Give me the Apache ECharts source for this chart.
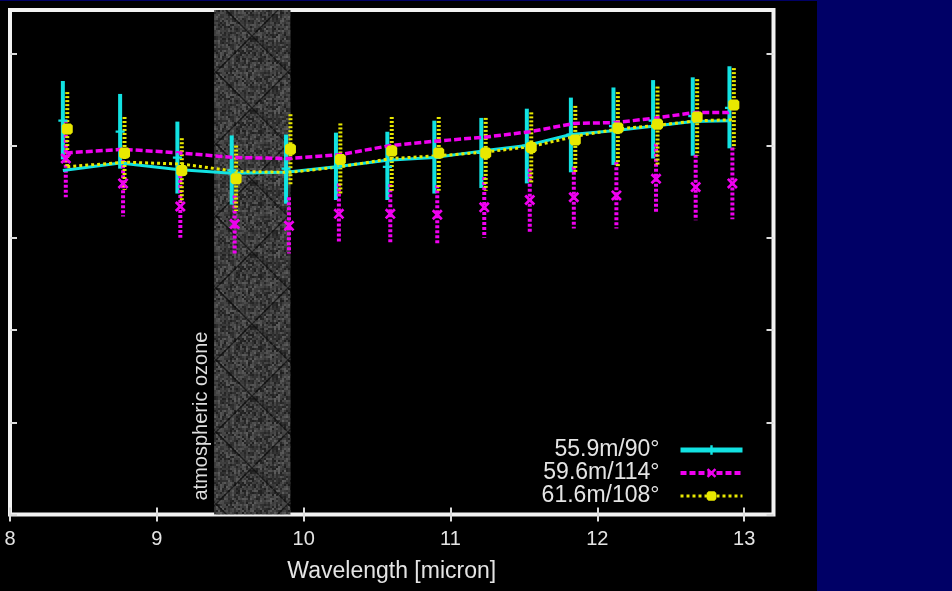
<!DOCTYPE html>
<html>
<head>
<meta charset="utf-8">
<script src="https://cdn.jsdelivr.net/npm/echarts@6/dist/echarts.min.js"></script>
<style>
  html, body { margin: 0; padding: 0; background: #000; }
  #chart { width: 952px; height: 591px; }
</style>
</head>
<body>
<div id="chart"></div>
<script>
// Axis ticks and annotations
const xTicks = [8, 9, 10, 11, 12, 13];
const yTicks = [0, 1, 2, 3, 4, 5];
const seriesNames = ['55.9m/90°', '59.6m/114°', '61.6m/108°'];
const ozoneBand = [9.39, 9.91];
const ozoneLabel = 'atmospheric ozone';
const xAxisTitle = 'Wavelength [micron]';

// 55.9m/90°
const cyanX    = [8.36, 8.75, 9.14, 9.51, 9.88, 10.22, 10.57, 10.89, 11.21, 11.52, 11.82, 12.11, 12.38, 12.65, 12.90];
const cyanLine = [3.73, 3.81, 3.74, 3.70, 3.71, 3.77, 3.84, 3.87, 3.94, 4.00, 4.12, 4.16, 4.21, 4.26, 4.27];
const cyanMid  = [4.27, 4.15, 3.87, 3.73, 3.75, 3.76, 3.77, 3.87, 3.92, 4.00, 4.12, 4.21, 4.27, 4.32, 4.41];
const cyanLow  = [3.85, 3.75, 3.48, 3.36, 3.37, 3.41, 3.41, 3.48, 3.54, 3.59, 3.71, 3.79, 3.86, 3.89, 3.97];
const cyanHigh = [4.70, 4.56, 4.26, 4.11, 4.12, 4.14, 4.15, 4.27, 4.30, 4.40, 4.52, 4.63, 4.71, 4.74, 4.86];

// 59.6m/114°
const magentaX    = [8.38, 8.77, 9.16, 9.53, 9.90, 10.24, 10.59, 10.91, 11.23, 11.54, 11.84, 12.13, 12.40, 12.67, 12.92];
const magentaLine = [3.92, 3.96, 3.92, 3.87, 3.86, 3.90, 4.00, 4.05, 4.09, 4.15, 4.24, 4.25, 4.30, 4.36, 4.36];
const magentaMid  = [3.86, 3.59, 3.34, 3.15, 3.13, 3.26, 3.26, 3.25, 3.33, 3.41, 3.44, 3.46, 3.64, 3.55, 3.59];
const magentaLow  = [3.44, 3.23, 3.00, 2.83, 2.83, 2.94, 2.95, 2.94, 3.00, 3.06, 3.10, 3.10, 3.26, 3.19, 3.20];
const magentaHigh = [4.28, 3.95, 3.68, 3.46, 3.44, 3.59, 3.58, 3.57, 3.66, 3.75, 3.77, 3.82, 4.02, 3.90, 3.98];

// 61.6m/108°
const yellowX    = [8.39, 8.78, 9.17, 9.54, 9.91, 10.25, 10.60, 10.92, 11.24, 11.55, 11.85, 12.14, 12.41, 12.68, 12.93];
const yellowLine = [3.77, 3.82, 3.80, 3.72, 3.71, 3.77, 3.86, 3.89, 3.93, 3.99, 4.10, 4.18, 4.22, 4.27, 4.28];
const yellowMid  = [4.18, 3.92, 3.73, 3.64, 3.96, 3.85, 3.94, 3.92, 3.92, 3.98, 4.06, 4.19, 4.23, 4.31, 4.44];
const yellowLow  = [3.77, 3.52, 3.38, 3.29, 3.58, 3.46, 3.51, 3.51, 3.51, 3.58, 3.70, 3.76, 3.79, 3.89, 3.97];
const yellowHigh = [4.58, 4.31, 4.08, 4.00, 4.34, 4.24, 4.31, 4.31, 4.30, 4.36, 4.43, 4.58, 4.64, 4.72, 4.84];

const FONT = '"Liberation Sans", Arial, Helvetica, sans-serif';
const TEXT = '#e4e4e4';
const CYAN = '#12e2e2';
const MAGENTA = '#f000f0';
const YELLOW = '#e8e800';

const PLUS = 'path://M3,0H5V3H8V5H5V8H3V5H0V3H3Z';
const CROSS = 'path://M0,1.4L1.4,0L4,2.6L6.6,0L8,1.4L5.4,4L8,6.6L6.6,8L4,5.4L1.4,8L0,6.6L2.6,4Z';
const BLOB = 'path://M1.5,0H6.5L8,1.5V6.5L6.5,8H1.5L0,6.5V1.5Z';

// Speckled grey texture with a diamond cross-hatch for the ozone band
function makeHatch() {
  const n = 72;
  const c = document.createElement('canvas');
  c.width = n; c.height = n;
  const ctx = c.getContext('2d');
  for (let y = 0; y < n; y += 2) {
    for (let x = 0; x < n; x += 2) {
      const h = Math.abs(Math.sin(x * 12.9898 + y * 78.233) * 43758.5453) % 1;
      const g = Math.round(30 + h * 62);
      ctx.fillStyle = 'rgb(' + g + ',' + g + ',' + g + ')';
      ctx.fillRect(x, y, 2, 2);
    }
  }
  ctx.strokeStyle = 'rgba(10,10,10,0.7)';
  ctx.lineWidth = 1.4;
  ctx.beginPath();
  ctx.moveTo(0, 0); ctx.lineTo(n, n);
  ctx.moveTo(n, 0); ctx.lineTo(0, n);
  ctx.stroke();
  return c;
}

function zip(xs, ys) { return xs.map((x, i) => [x, ys[i]]); }

function lineSeries(name, xs, ys, color, type, width, symbol) {
  return {
    type: 'line', name: name, z: 3,
    data: zip(xs, ys),
    symbol: symbol, symbolSize: 10, showSymbol: false,
    itemStyle: { color: color },
    lineStyle: { color: color, width: width, type: type },
    emphasis: { disabled: true }, animation: false
  };
}

function errorBars(name, xs, lows, highs, color, dash) {
  return {
    type: 'custom', name: name, z: 2,
    data: xs.map((x, i) => [x, lows[i], highs[i]]),
    encode: { x: 0, y: [1, 2] },
    renderItem: function (params, api) {
      const top = api.coord([api.value(0), api.value(2)]);
      const bot = api.coord([api.value(0), api.value(1)]);
      return {
        type: 'line',
        shape: { x1: top[0], y1: top[1], x2: bot[0], y2: bot[1] },
        style: { stroke: color, lineWidth: 4, lineDash: dash }
      };
    },
    animation: false
  };
}

function markers(name, xs, ys, color, symbol, size) {
  return {
    type: 'scatter', name: name, z: 4,
    data: zip(xs, ys),
    symbol: symbol, symbolSize: size,
    itemStyle: { color: color, opacity: 1 },
    emphasis: { disabled: true }, animation: false
  };
}

const tickStyle = { color: '#dcdcdc', width: 2 };

const option = {
  backgroundColor: '#000',
  animation: false,
  textStyle: { fontFamily: FONT },
  grid: {
    left: 10, top: 10, right: 178.5, bottom: 76.5,
    show: true, borderColor: '#f2f2f2', borderWidth: 4, backgroundColor: 'transparent'
  },
  legend: {
    orient: 'vertical', right: 207, top: 438.5, padding: 0, itemGap: 0,
    itemWidth: 62, itemHeight: 12, align: 'right', selectedMode: false,
    textStyle: { color: TEXT, fontSize: 23, lineHeight: 23, fontFamily: FONT, padding: [0, 16, 0, 0] },
    data: [
      { name: seriesNames[0], lineStyle: { width: 5, type: 'solid', color: CYAN }, itemStyle: { color: CYAN } },
      { name: seriesNames[1], lineStyle: { width: 4, type: [6, 3], color: MAGENTA }, itemStyle: { color: MAGENTA } },
      { name: seriesNames[2], lineStyle: { width: 3, type: [3, 3], color: YELLOW }, itemStyle: { color: YELLOW } }
    ]
  },
  xAxis: [
    {
      type: 'value', min: 8, max: 13.2, position: 'bottom',
      axisLine: { show: false }, splitLine: { show: false },
      axisTick: { inside: true, length: 7, lineStyle: tickStyle, customValues: xTicks },
      axisLabel: { customValues: xTicks, color: TEXT, fontSize: 20, margin: 15, fontFamily: FONT },
      name: xAxisTitle, nameLocation: 'middle', nameGap: 46,
      nameTextStyle: { color: TEXT, fontSize: 23, fontFamily: FONT }
    },
    {
      type: 'value', min: 8, max: 13.2, position: 'top',
      axisLine: { show: false }, splitLine: { show: false },
      axisTick: { inside: true, length: 7, lineStyle: tickStyle, customValues: xTicks },
      axisLabel: { show: false }
    }
  ],
  yAxis: [
    {
      type: 'value', min: 0, max: 5.47, position: 'left',
      axisLine: { show: false }, splitLine: { show: false },
      axisTick: { inside: true, length: 7, lineStyle: tickStyle, customValues: yTicks },
      axisLabel: { show: false }
    },
    {
      type: 'value', min: 0, max: 5.47, position: 'right',
      axisLine: { show: false }, splitLine: { show: false },
      axisTick: { inside: true, length: 7, lineStyle: tickStyle, customValues: yTicks },
      axisLabel: { show: false }
    }
  ],
  series: [
    lineSeries(seriesNames[0], cyanX, cyanLine, CYAN, 'solid', 3, PLUS),
    lineSeries(seriesNames[1], magentaX, magentaLine, MAGENTA, [7, 3], 3.5, CROSS),
    lineSeries(seriesNames[2], yellowX, yellowLine, YELLOW, [3, 3], 3, BLOB),
    {
      type: 'line', name: 'ozone', z: 1, data: [], silent: true,
      markArea: {
        silent: true,
        itemStyle: { color: { image: makeHatch(), repeat: 'repeat' } },
        data: [[{ xAxis: ozoneBand[0] }, { xAxis: ozoneBand[1] }]]
      }
    },
    errorBars(seriesNames[0], cyanX, cyanLow, cyanHigh, CYAN, null),
    errorBars(seriesNames[1], magentaX, magentaLow, magentaHigh, MAGENTA, [3, 2]),
    errorBars(seriesNames[2], yellowX, yellowLow, yellowHigh, YELLOW, [2, 2]),
    markers(seriesNames[0], cyanX, cyanMid, CYAN, PLUS, 9),
    markers(seriesNames[1], magentaX, magentaMid, MAGENTA, CROSS, 11),
    markers(seriesNames[2], yellowX, yellowMid, YELLOW, BLOB, 11)
  ],
  graphic: [
    { id: 'navyPanel', type: 'rect', left: 817, top: 0, shape: { width: 135, height: 591 }, style: { fill: '#000066' }, silent: true },
    { id: 'navyTop', type: 'rect', left: 0, top: 0, shape: { width: 952, height: 1 }, style: { fill: '#000066' }, silent: true }
  ]
};

const chart = echarts.init(document.getElementById('chart'), null, { renderer: 'canvas' });
chart.setOption(option);

// Vertical caption beside the ozone band, anchored to the band's lower-left corner
const anchor = chart.convertToPixel({ xAxisIndex: 0, yAxisIndex: 0 }, [ozoneBand[0], 0]);
chart.setOption({
  graphic: [{
    id: 'ozoneCaption', type: 'text', x: anchor[0] - 13, y: anchor[1] - 14,
    rotation: Math.PI / 2, silent: true, z: 5,
    style: { text: ozoneLabel, fill: '#dedede', font: '20px ' + FONT, align: 'left', verticalAlign: 'middle' }
  }]
});
</script>
</body>
</html>
